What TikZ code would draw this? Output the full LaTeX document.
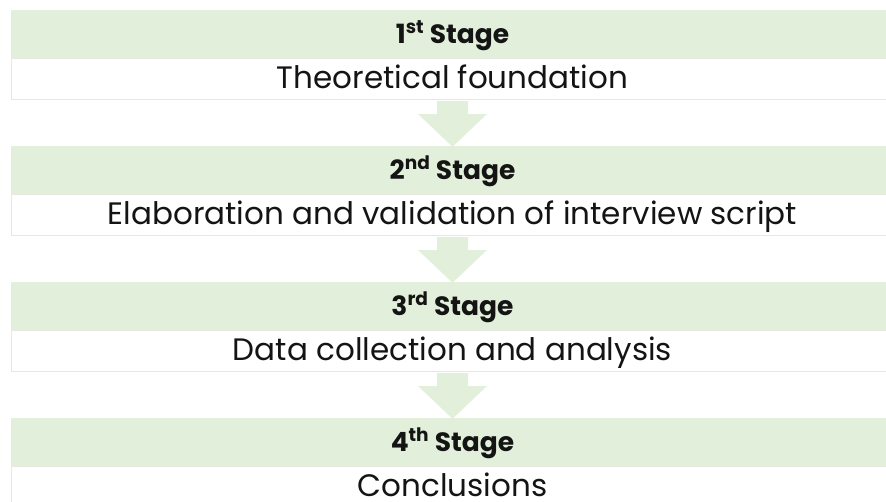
\documentclass[tikz,border=0pt]{standalone}
\usepackage{fontspec}
\setmainfont{Poppins}
\usepackage{tikz}
\usetikzlibrary{positioning, calc}
\usepackage{xcolor}
\definecolor{stagegreen}{RGB}{226, 239, 218}
\definecolor{boxline}{RGB}{232, 232, 226}
\definecolor{darktext}{RGB}{20, 20, 20}

\begin{document}
\begin{tikzpicture}[
    x=1pt, y=1pt,
    stagehead/.style={fill=stagegreen, minimum width=883pt,
                      minimum height=48pt, inner sep=0pt, text=darktext,
                      text height=18pt, text depth=0pt,
                      font=\fontsize{26.5}{30}\selectfont\bfseries},
    stagebody/.style={draw=boxline, fill=white, line width=0.8pt,
                      minimum width=883pt, minimum height=41pt,
                      inner sep=0pt, text=darktext,
                      text height=19pt, text depth=0pt,
                      font=\fontsize{31}{36}\selectfont},
    blockarrow/.style={fill=stagegreen, draw=none},
  ]
    \useasboundingbox (0,0) rectangle (886,-501);

    % Stage 1
    \node[stagehead] (h1) at (452.5,-34) {1\textsuperscript{st} Stage};
    \node[stagebody, below=0pt of h1] (b1) {Theoretical foundation};

    % Stage 2
    \node[stagehead] (h2) at (452.5,-170) {2\textsuperscript{nd} Stage};
    \node[stagebody, below=0pt of h2] (b2)
      {Elaboration and validation of interview script};

    % Stage 3
    \node[stagehead] (h3) at (452.5,-306) {3\textsuperscript{rd} Stage};
    \node[stagebody, below=0pt of h3] (b3) {Data collection and analysis};

    % Stage 4
    \node[stagehead] (h4) at (452.5,-442) {4\textsuperscript{th} Stage};
    \node[stagebody, below=0pt of h4] (b4) {Conclusions};

    % Arrows between stages
    \foreach \a/\b in {b1/h2, b2/h3, b3/h4} {
      \fill[blockarrow]
        ($(\a.south)+(-15.5,-1)$) -- ($(\a.south)+(15.5,-1)$)
        -- ($(\a.south)+(15.5,-14)$) -- ($(\a.south)+(34.5,-14)$)
        -- ($(\b.north)+(0,-1)$)
        -- ($(\a.south)+(-34.5,-14)$) -- ($(\a.south)+(-15.5,-14)$)
        -- cycle;
    }
\end{tikzpicture}
\end{document}
